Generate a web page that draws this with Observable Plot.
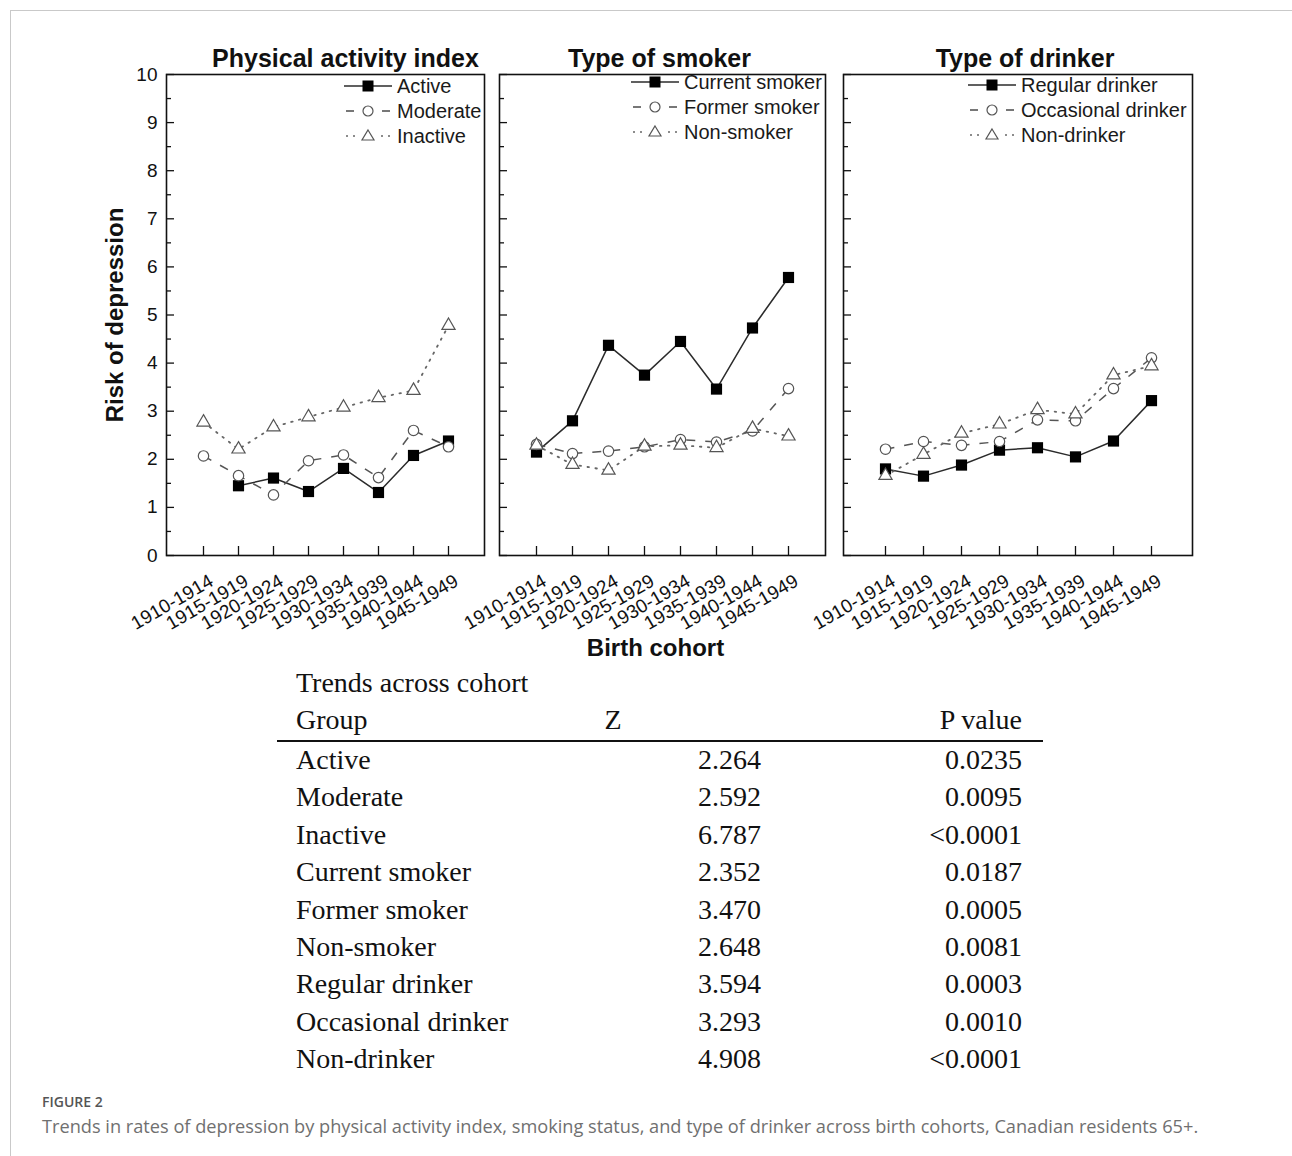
<!DOCTYPE html>
<html><head><meta charset="utf-8">
<script src="https://cdn.jsdelivr.net/npm/d3@7"></script>
<script src="https://cdn.jsdelivr.net/npm/@observablehq/plot@0.6"></script>
<style>
body { margin:0; background:#fff; }
#root { position:relative; width:1292px; height:1156px; overflow:hidden; font-family:"Liberation Sans", Arial, sans-serif; background:#fff; }
.cardline { position:absolute; left:10px; top:10px; right:-5px; bottom:-5px; border-top:1px solid #c9c9c9; border-left:1px solid #c9c9c9; }
.panel { position:absolute; top:40px; }
.lg { position:absolute; display:flex; align-items:center; white-space:nowrap; height:24px; font-size:20px; color:#1a1a1a; font-family:"Liberation Sans", Arial, sans-serif; }
.lg svg { display:block; margin-right:5px; }
.tb { position:absolute; font-family:"Liberation Serif", "Times New Roman", serif; font-size:28px; color:#111; height:36px; line-height:36px; white-space:nowrap; }
.rule { position:absolute; left:277px; width:766px; top:740px; height:2px; background:#111; }
.figlab { position:absolute; left:42px; top:1092px; font-family:"Open Sans", sans-serif; font-size:14px; font-weight:600; color:#555; }
.figcap { position:absolute; left:42px; top:1114px; font-family:"Open Sans", sans-serif; font-size:18.2px; color:#707070; white-space:nowrap; }
</style>
</head><body>
<div id="root"><div class="cardline"></div></div>
<script>
// ---------- data ----------
const cohorts = ["1910-1914","1915-1919","1920-1924","1925-1929","1930-1934","1935-1939","1940-1944","1945-1949"];
const yTickValues = [0,0.5,1,1.5,2,2.5,3,3.5,4,4.5,5,5.5,6,6.5,7,7.5,8,8.5,9,9.5,10];
const yLabelValues = [0,1,2,3,4,5,6,7,8,9,10];

const panelTitles = ["Physical activity index", "Type of smoker", "Type of drinker"];

const activityNames = ["Active", "Moderate", "Inactive"];
const activeRisk   = [null, 1.45, 1.61, 1.33, 1.81, 1.31, 2.08, 2.38];
const moderateRisk = [2.07, 1.66, 1.26, 1.97, 2.09, 1.62, 2.60, 2.26];
const inactiveRisk = [2.77, 2.21, 2.67, 2.88, 3.08, 3.28, 3.43, 4.78];

const smokerNames = ["Current smoker", "Former smoker", "Non-smoker"];
const currentSmokerRisk = [2.15, 2.80, 4.37, 3.75, 4.45, 3.46, 4.73, 5.78];
const formerSmokerRisk  = [2.31, 2.12, 2.17, 2.26, 2.41, 2.36, 2.59, 3.47];
const nonSmokerRisk     = [2.29, 1.89, 1.77, 2.27, 2.29, 2.24, 2.64, 2.48];

const drinkerNames = ["Regular drinker", "Occasional drinker", "Non-drinker"];
const regularDrinkerRisk    = [1.80, 1.65, 1.88, 2.19, 2.24, 2.05, 2.38, 3.22];
const occasionalDrinkerRisk = [2.21, 2.37, 2.29, 2.37, 2.82, 2.80, 3.47, 4.11];
const nonDrinkerRisk        = [1.66, 2.10, 2.54, 2.73, 3.03, 2.94, 3.75, 3.94];

const tableTitle = "Trends across cohort";
const tableHeaders = ["Group", "Z", "P value"];
const tableGroups = ["Active","Moderate","Inactive","Current smoker","Former smoker","Non-smoker","Regular drinker","Occasional drinker","Non-drinker"];
const tableZ = ["2.264","2.592","6.787","2.352","3.470","2.648","3.594","3.293","4.908"];
const tableP = ["0.0235","0.0095","<0.0001","0.0187","0.0005","0.0081","0.0003","0.0010","<0.0001"];

const xAxisTitle = "Birth cohort";
const yAxisTitle = "Risk of depression";
const figureLabel = "FIGURE 2";
const figureCaption = "Trends in rates of depression by physical activity index, smoking status, and type of drinker across birth cohorts, Canadian residents 65+.";

// ---------- styles per series rank ----------
const styles = [
  {stroke:"#2b2b2b", width:1.5, dash:null, symbol:"square", r:6.3, fill:"#000", mstroke:"none", cap:"butt"},
  {stroke:"#555", width:1.5, dash:"9,10", symbol:"circle", r:5.2, fill:"#fff", mstroke:"#555", cap:"butt"},
  {stroke:"#666", width:1.8, dash:"1.5,6.5", symbol:"triangle", r:4.9, fill:"#fff", mstroke:"#555", cap:"round"}
];

function longData(names, arrays) {
  const out = [];
  names.forEach((n, s) => arrays[s].forEach((v, i) => {
    if (v != null) out.push({series: n, rank: s, cohort: cohorts[i], value: v});
  }));
  return out;
}

const root = document.getElementById("root");
const marginTop = 34, frameH = 481, marginBottom = 110;
const H = marginTop + frameH + marginBottom;

function makePanel({left, marginLeft, frameW, names, arrays, title, titleDx, showY, extraMarks = []}) {
  const marginRight = 10;
  const data = longData(names, arrays);
  const marks = [];
  names.forEach((n, s) => {
    const st = styles[s];
    marks.push(Plot.line(data.filter(d => d.rank === s), {
      x: "cohort", y: "value", stroke: st.stroke, strokeWidth: st.width,
      strokeDasharray: st.dash, strokeLinecap: st.cap
    }));
  });
  names.forEach((n, s) => {
    const st = styles[s];
    marks.push(Plot.dot(data.filter(d => d.rank === s), {
      x: "cohort", y: "value", symbol: st.symbol, r: st.r, fill: st.fill,
      stroke: st.mstroke, strokeWidth: 1.2
    }));
  });
  // inward ticks
  marks.push(Plot.tickY(yTickValues.filter(d => Number.isInteger(d)), {y: d => d, insetRight: frameW - 8, stroke: "#111", strokeWidth: 1.3}));
  marks.push(Plot.tickY(yTickValues.filter(d => !Number.isInteger(d)), {y: d => d, insetRight: frameW - 5, stroke: "#111", strokeWidth: 1.3}));
  marks.push(Plot.tickX(cohorts, {x: d => d, insetTop: frameH - 9, stroke: "#111", strokeWidth: 1.3}));
  marks.push(Plot.frame({stroke: "#111", strokeWidth: 1.6}));
  if (showY) {
    marks.push(Plot.axisY(yLabelValues, {tickSize: 0, tickPadding: 9, fontSize: 19, fill: "#111", label: null}));
    marks.push(Plot.text([yAxisTitle], {frameAnchor: "left", dx: -51, rotate: -90, textAnchor: "middle", lineAnchor: "middle", fontSize: 24, fontWeight: "bold", fill: "#111", text: d => d}));
  }
  marks.push(Plot.axisX({tickSize: 0, tickPadding: 24, tickRotate: -30, dx: 8, fontSize: 19, fill: "#111", label: null}));
  marks.push(Plot.text([title], {frameAnchor: "top", dy: -16, dx: titleDx, lineAnchor: "middle", textAnchor: "middle", fontSize: 25, fontWeight: "bold", fill: "#111", text: d => d}));
  marks.push(...extraMarks);

  const chart = Plot.plot({
    width: marginLeft + frameW + marginRight,
    height: H,
    marginLeft, marginRight, marginTop, marginBottom,
    x: {type: "point", domain: cohorts, padding: 1, axis: null},
    y: {domain: [0, 10], axis: null},
    style: {background: "transparent", overflow: "visible", fontFamily: "'Liberation Sans', Arial, sans-serif", fontSize: "18px", color: "#111"},
    marks
  });
  const wrap = document.createElement("div");
  wrap.className = "panel";
  wrap.style.left = left + "px";
  wrap.appendChild(chart);
  root.appendChild(wrap);
}

makePanel({left: 100, marginLeft: 66, frameW: 318, names: activityNames,
  arrays: [activeRisk, moderateRisk, inactiveRisk], title: panelTitles[0], titleDx: 20, showY: true});
makePanel({left: 479, marginLeft: 20, frameW: 326, names: smokerNames,
  arrays: [currentSmokerRisk, formerSmokerRisk, nonSmokerRisk], title: panelTitles[1], titleDx: -3, showY: false,
  extraMarks: [Plot.text([xAxisTitle], {frameAnchor: "bottom", dy: 93, dx: -7, lineAnchor: "middle", textAnchor: "middle", fontSize: 24, fontWeight: "bold", fill: "#111", text: d => d})]});
makePanel({left: 823, marginLeft: 20, frameW: 349, names: drinkerNames,
  arrays: [regularDrinkerRisk, occasionalDrinkerRisk, nonDrinkerRisk], title: panelTitles[2], titleDx: 7, showY: false});

// ---------- legends ----------
function swatch(s) {
  const st = styles[s];
  const ns = "http://www.w3.org/2000/svg";
  const svg = document.createElementNS(ns, "svg");
  svg.setAttribute("width", 48); svg.setAttribute("height", 20);
  let inner = "";
  if (s === 0) {
    inner += `<line x1="0" y1="10" x2="48" y2="10" stroke="${st.stroke}" stroke-width="1.6"/>`;
    inner += `<rect x="18.5" y="4.5" width="11" height="11" fill="#000"/>`;
  } else if (s === 1) {
    inner += `<line x1="2" y1="10" x2="10" y2="10" stroke="${st.stroke}" stroke-width="1.6"/>`;
    inner += `<line x1="38" y1="10" x2="46" y2="10" stroke="${st.stroke}" stroke-width="1.6"/>`;
    inner += `<circle cx="24" cy="10" r="5" fill="#fff" stroke="${st.mstroke}" stroke-width="1.2"/>`;
  } else {
    [3, 10, 38, 45].forEach(x => inner += `<circle cx="${x}" cy="10" r="1" fill="${st.stroke}"/>`);
    inner += `<path d="M24,4L30,14L18,14Z" fill="#fff" stroke="${st.mstroke}" stroke-width="1.2"/>`;
  }
  svg.innerHTML = inner;
  return svg;
}
function legend(names, x, y0) {
  names.forEach((n, s) => {
    const row = document.createElement("div");
    row.className = "lg";
    row.style.left = x + "px";
    row.style.top = (y0 + s * 25 - 12) + "px";
    row.appendChild(swatch(s));
    const t = document.createElement("span");
    t.textContent = n;
    row.appendChild(t);
    root.appendChild(row);
  });
}
legend(activityNames, 344, 86);
legend(smokerNames, 631, 82);
legend(drinkerNames, 968, 85);

// ---------- table ----------
function cell(text, opts) {
  const d = document.createElement("div");
  d.className = "tb";
  d.textContent = text;
  d.style.top = (opts.cy - 18) + "px";
  if (opts.left != null) d.style.left = opts.left + "px";
  if (opts.right != null) { d.style.right = (1292 - opts.right) + "px"; d.style.textAlign = "right"; }
  if (opts.center != null) { d.style.left = (opts.center - 100) + "px"; d.style.width = "200px"; d.style.textAlign = "center"; }
  root.appendChild(d);
}
cell(tableTitle, {cy: 683, left: 296});
cell(tableHeaders[0], {cy: 720, left: 296});
cell(tableHeaders[1], {cy: 720, center: 613});
cell(tableHeaders[2], {cy: 720, right: 1022});
const rule = document.createElement("div"); rule.className = "rule"; root.appendChild(rule);
tableGroups.forEach((g, i) => {
  const cy = 760 + i * 37.4;
  cell(g, {cy, left: 296});
  cell(tableZ[i], {cy, right: 761});
  cell(tableP[i], {cy, right: 1022});
});

// ---------- caption ----------
const fl = document.createElement("div"); fl.className = "figlab"; fl.textContent = figureLabel; root.appendChild(fl);
const fc = document.createElement("div"); fc.className = "figcap"; fc.textContent = figureCaption; root.appendChild(fc);
</script>
</body></html>
